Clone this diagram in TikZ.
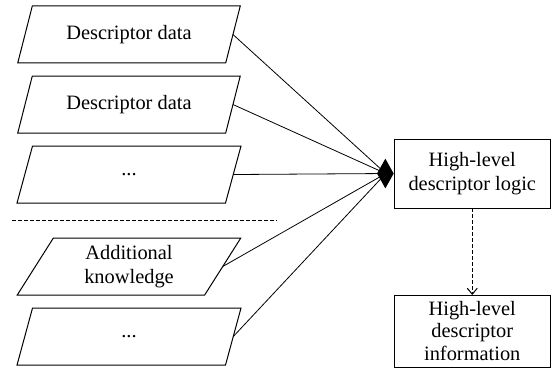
\documentclass[tikz,border=0pt]{standalone}
\usepackage{fontspec}
\setmainfont{Liberation Serif}
\usetikzlibrary{positioning, arrows.meta}
\usetikzlibrary{shapes.geometric, calc}

\tikzset{
    datashape/.style={draw, trapezium, trapezium left angle=63, trapezium right angle=117,
        trapezium stretches, minimum width=112pt, minimum height=28.5pt, inner sep=0pt,
        outer sep=0pt, align=center, line width=0.5pt},
    logicbox/.style={draw, rectangle, minimum width=78pt, align=center, inner sep=0pt,
        outer sep=0pt, line width=0.5pt},
    link/.style={line width=0.4pt}
}

\begin{document}
\begin{tikzpicture}[>=Stealth, font=\fontsize{10.2}{11.7}\selectfont]

    % Page frame.
    \useasboundingbox (0,0) rectangle (276pt,-184pt);

    % --- Begin Input Nodes ---
			\node [datashape] (data_one) at (64.5pt,-17.25pt) {Descriptor data};
			\node [datashape, below=6.5pt of data_one] (data_two) {Descriptor data};
			\node [datashape, below=6.5pt of data_two] (data_more) {...};

			% Separator between descriptor data and extra knowledge.
			\coordinate (sep_left) at (6pt,-110.4pt);
			\coordinate (sep_right) at (138.5pt,-110.4pt);
			\draw [dash pattern=on 2pt off 1pt, line width=0.5pt] (sep_left) -- (sep_right);

			\node [datashape, below=17.5pt of data_more] (knowledge) {Additional\\knowledge};
			\node [datashape, below=6.5pt of knowledge] (knowledge_more) {...};
			% --- End Input Nodes ---

			% --- Begin Logic Node ---
			\node [logicbox, minimum height=34.5pt, right=80.5pt of data_more, yshift=0.5pt] (Logic) {High-level\\descriptor logic};
			\coordinate (hub) at ($(Logic.west)+(-4.25pt,0)$);
			% --- End Logic Node ---

			% --- Begin Information Node ---
			\node [logicbox, minimum height=36pt, below=43.5pt of Logic, font=\fontsize{10.2}{11.3}\selectfont] (Information) {High-level\\descriptor\\information};
			% --- End Information Node ---

			% Connect the inputs to the logic.
			\draw[link] (data_one.east) -- (hub);
			\draw[link] (data_two.east) -- (hub);
			\draw[link] (data_more.east) -- (hub);
			\draw[link] (knowledge.east) -- (hub);
			\draw[link] (knowledge_more.east) -- (hub);

			% Junction drawn over the line ends.
			\node [diamond, fill=black, inner sep=0pt, minimum width=8.5pt, minimum height=15pt, left=0pt of Logic] (junction) {};

			\draw[->, dash pattern=on 2pt off 1pt, line width=0.5pt, >={Straight Barb[length=3pt, width=5pt]}] (Logic.south) -- (Information.north);

  \end{tikzpicture}
\end{document}
